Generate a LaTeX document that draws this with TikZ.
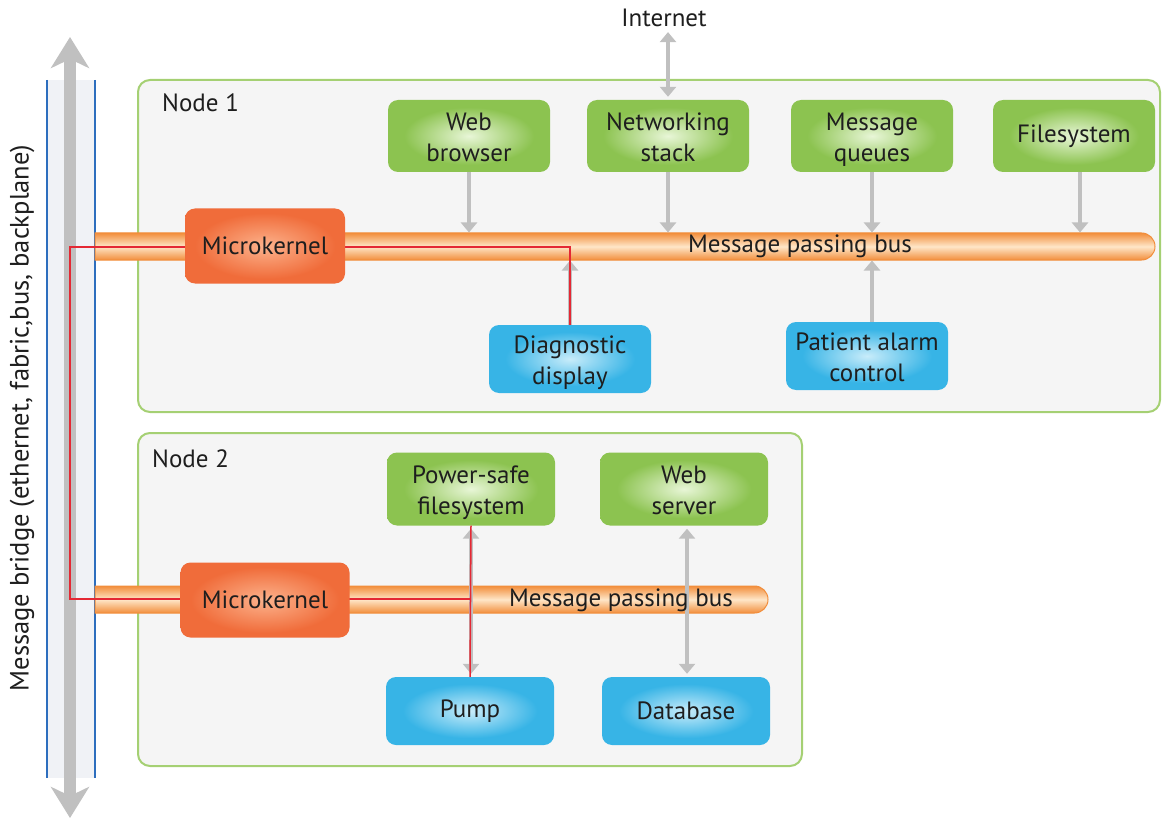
\documentclass[tikz,border=0pt]{standalone}
\usepackage{fontspec}
\setmainfont{PT Sans}
\usetikzlibrary{arrows.meta,shapes.misc}
\definecolor{framegreen}{RGB}{165,208,115}
\definecolor{framefill}{RGB}{245,245,245}
\definecolor{boxgreen}{RGB}{140,195,80}
\definecolor{glowg}{RGB}{232,246,215}
\definecolor{boxblue}{RGB}{55,180,230}
\definecolor{glowb}{RGB}{200,236,250}
\definecolor{kernelred}{RGB}{240,108,58}
\definecolor{glowk}{RGB}{252,178,140}
\definecolor{busorange}{RGB}{242,142,60}
\definecolor{buslight}{RGB}{254,230,200}
\definecolor{arrowgray}{RGB}{192,192,192}
\definecolor{bridgeblue}{RGB}{45,110,190}
\definecolor{bandfill}{RGB}{240,242,246}
\definecolor{signalred}{RGB}{228,40,52}
\definecolor{textdark}{RGB}{30,30,30}
\pgfdeclareradialshading{glowgreen}{\pgfpoint{0bp}{0bp}}{color(0bp)=(glowg); color(20bp)=(boxgreen); color(50bp)=(boxgreen)}
\pgfdeclareradialshading{glowblue}{\pgfpoint{0bp}{0bp}}{color(0bp)=(glowb); color(20bp)=(boxblue); color(50bp)=(boxblue)}
\pgfdeclareradialshading{glowkernel}{\pgfpoint{0bp}{0bp}}{color(0bp)=(glowk); color(22bp)=(kernelred); color(50bp)=(kernelred)}
\newcommand\boxfont{\fontsize{25}{31}\selectfont}
\newcommand\twoline[2]{\rule{0pt}{25pt}#1\\#2\rule[-5pt]{0pt}{5pt}}

\begin{document}
\begin{tikzpicture}[x=1pt,y=-1pt,
  nodeframe/.style={draw=framegreen, line width=2pt, fill=framefill, rounded corners=12pt, inner sep=0pt},
  gbox/.style={shade, shading=glowgreen, rounded corners=10pt, minimum width=162pt, minimum height=72pt, align=center, text=textdark, font=\boxfont, inner sep=0pt},
  bbox/.style={gbox, shading=glowblue, minimum height=68pt},
  kernel/.style={gbox, shading=glowkernel, minimum width=160pt, minimum height=75pt},
  bus/.style={rounded rectangle, rounded rectangle left arc=none, draw=busorange, line width=1pt, top color=busorange, bottom color=busorange, middle color=buslight, minimum height=27pt, inner sep=0pt},
  flow/.style={draw=arrowgray, line width=4.5pt, -{Triangle[width=16pt,length=10pt]}},
  flowboth/.style={flow, {Triangle[width=16pt,length=10pt]}-{Triangle[width=16pt,length=10pt]}, shorten >=3pt, shorten <=3pt},
  bridgearrow/.style={draw=arrowgray, line width=12pt, {Stealth[length=31pt,width=38pt,inset=9pt]}-{Stealth[length=31pt,width=38pt,inset=9pt]}},
  signal/.style={draw=signalred, line width=1.5pt},
  plaintext/.style={text=textdark, font=\boxfont, inner sep=2pt}
]
\useasboundingbox (0,0) rectangle (1162,821);

% node frames
\node[nodeframe, minimum width=1022pt, minimum height=332pt] (node1) at (649,246) {};
\node[nodeframe, minimum width=664pt, minimum height=333pt] (node2) at (470,599.5) {};
\node[plaintext, anchor=west] (node1title) at (160,103) {Node 1};
\node[plaintext, anchor=west] (node2title) at (150,459) {Node 2};

% message bridge
\fill[bandfill] (47,80) rectangle (95,778);
\draw[bridgeblue, line width=2pt] (47,80) -- (47,778) (95,80) -- (95,778);
\coordinate (bridgetop) at (70,37);
\coordinate (bridgebot) at (70,818);
\draw[bridgearrow] (bridgetop) -- (bridgebot);
\node[plaintext, rotate=90, font=\fontsize{26.5}{31}\selectfont] (bridgelabel) at (22,418) {Message bridge (ethernet, fabric,bus, backplane)};

% buses
\node[bus, minimum width=1060pt] (bus1) at (625,246.5) {};
\node[bus, minimum width=673pt] (bus2) at (431.5,599.5) {};

% node 1
\node[gbox] (wb) at (469,136) {\twoline{Web}{browser}};
\node[gbox] (ns) at (668,136) {\twoline{Networking}{stack}};
\node[gbox] (mq) at (872,136) {\twoline{Message}{queues}};
\node[gbox] (fs) at (1074,136) {Filesystem};
\node[bbox] (diag) at (570,359) {\twoline{Diagnostic}{display}};
\node[bbox] (pac) at (867,356) {\twoline{Patient alarm}{control}};
\node[plaintext] (inet) at (664,18) {Internet};

\draw[flowboth] (ns.north |- inet.south) -- (ns.north);
\draw[flow] (wb.south) -- (wb.south |- bus1.north);
\draw[flow] (ns.south) -- (ns.south |- bus1.north);
\draw[flow] (mq.south) -- (mq.south |- bus1.north);
\draw[flow] ([xshift=6pt]fs.south) -- ([xshift=6pt]fs.south |- bus1.north);
\draw[flow] (diag.north) -- (diag.north |- bus1.south);
\draw[flow] ([xshift=5pt]pac.north) -- ([xshift=5pt]pac.north |- bus1.south);

% node 2
\node[gbox, minimum width=168pt, minimum height=73pt] (psf) at (471,489) {\twoline{Power-safe}{filesystem}};
\node[gbox, minimum width=168pt, minimum height=73pt] (ws) at (684,489) {\twoline{Web}{server}};
\node[bbox, minimum width=168pt] (pump) at (470,711) {Pump};
\node[bbox, minimum width=168pt] (db) at (686,711) {Database};

\draw[flowboth] (psf.south) -- (psf.south |- pump.north);
\draw[flowboth] ([xshift=3pt]ws.south) -- ([xshift=3pt]ws.south |- db.north);

% red path
\coordinate (tap1) at (70,247);
\coordinate (tap2) at (70,599);
\draw[signal] (diag.north) |- (tap1) -- (tap2) -- (tap2 -| psf.south);
\draw[signal] (psf.south) -- (pump.north);

% microkernels
\node[kernel] (mk1) at (265,246) {Microkernel};
\node[kernel, minimum width=169pt] (mk2) at (265,600) {Microkernel};

\node[plaintext] (bus1text) at (800,246) {Message passing bus};
\node[plaintext] (bus2text) at (621,600) {Message passing bus};
\end{tikzpicture}
\end{document}
